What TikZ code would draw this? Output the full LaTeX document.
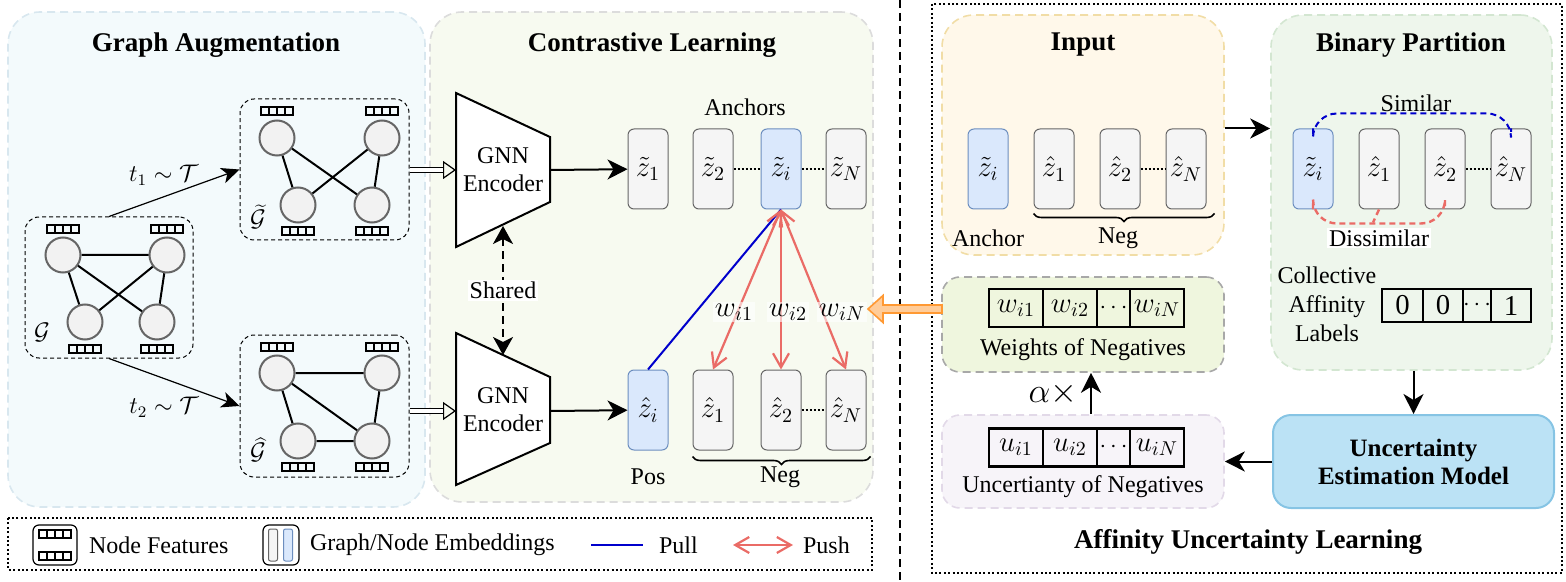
\documentclass[tikz,border=0pt]{standalone}
\usepackage{fontspec}
\setmainfont{Liberation Serif}
\usetikzlibrary{arrows.meta,positioning,decorations.pathreplacing}

\definecolor{gafill}{HTML}{F3FAFC}
\definecolor{galine}{HTML}{D8E7EF}
\definecolor{clfill}{HTML}{F7FAF0}
\definecolor{clline}{HTML}{DCDCDC}
\definecolor{inpfill}{HTML}{FFF8EA}
\definecolor{inpline}{HTML}{F1DDA6}
\definecolor{bpfill}{HTML}{EEF6EC}
\definecolor{bpline}{HTML}{D3E6D1}
\definecolor{wpfill}{HTML}{EFF6DE}
\definecolor{wpline}{HTML}{A8A8A8}
\definecolor{uncfill}{HTML}{F7F4F9}
\definecolor{uncline}{HTML}{E2D9E8}
\definecolor{uemfill}{HTML}{BBE2F5}
\definecolor{uemline}{HTML}{86C4E4}
\definecolor{embgray}{HTML}{F5F5F5}
\definecolor{embline}{HTML}{666666}
\definecolor{embblue}{HTML}{DAE8FC}
\definecolor{embblueline}{HTML}{6C8EBF}
\definecolor{nodefill}{HTML}{F2F2F2}
\definecolor{nodeline}{HTML}{666666}
\definecolor{pushred}{HTML}{EA6B66}
\definecolor{pullblue}{HTML}{0000CC}
\definecolor{orangefill}{HTML}{FFCC99}
\definecolor{orangeline}{HTML}{FF9933}

\tikzset{
  panel/.style={rounded corners=16pt, dash pattern=on 4pt off 2.5pt, line width=0.8pt, inner sep=0pt},
  emb/.style={draw=embline, fill=embgray, rounded corners=3pt, minimum width=20pt, minimum height=40pt,
    inner sep=0pt, line width=0.5pt, font=\fontsize{14.4}{16}\selectfont},
  embb/.style={emb, draw=embblueline, fill=embblue},
  gnode/.style={circle, draw=nodeline, fill=nodefill, line width=1pt, minimum size=17.5pt, inner sep=0pt},
  gbox/.style={draw, rounded corners=7pt, dash pattern=on 2pt off 1.5pt, line width=0.5pt, inner sep=0pt},
  gedge/.style={line width=1pt},
  ttl/.style={font=\fontsize{13.5}{16}\selectfont\bfseries},
  lbl/.style={font=\fontsize{12}{14}\selectfont},
  mlbl/.style={font=\fontsize{12}{14}\selectfont},
  wlbl/.style={font=\fontsize{14.4}{16}\selectfont, fill=white, fill opacity=0.6, text opacity=1, inner sep=1pt},
  cell/.style={draw, line width=1.2pt, outer sep=0pt, inner sep=0pt, minimum height=19pt,
    minimum width=27pt, font=\fontsize{14.4}{16}\selectfont},
  arr/.style={line width=1pt, -{Stealth[length=10pt,width=10pt,inset=3pt]}},
  thinarr/.style={line width=0.6pt, -{Stealth[length=9pt,width=8pt,inset=2.5pt]}},
  dbl/.style={line width=0.6pt, double, double distance=1.8pt},
  push/.style={pushred, line width=1.1pt, {Straight Barb[length=7pt,width=8pt]}-{Straight Barb[length=7pt,width=8pt]}},
  pull/.style={pullblue, line width=1pt},
  dots/.style={dash pattern=on 1pt off 1pt, line width=1pt},
  featbar/.pic={\draw[line width=0.6pt] (-16,-4) rectangle (16,4) (-8,-4) -- (-8,4) (0,-4) -- (0,4) (8,-4) -- (8,4);}
}

\begin{document}
\begin{tikzpicture}[x=0.5pt,y=-0.5pt]
\useasboundingbox (0,0) rectangle (1566,582);

% panels
\node[panel, draw=galine, fill=gafill, minimum width=208.5pt, minimum height=247.5pt] (ga) at (216.5,259.5) {};
\node[panel, draw=clline, fill=clfill, minimum width=221.5pt, minimum height=245pt] (cl) at (651.5,257) {};
\node[ttl] (gatitle) at (216,45) {Graph Augmentation};
\node[ttl] (cltitle) at (652,45) {Contrastive Learning};

% original graph
\node[gbox, minimum width=84pt, minimum height=70.5pt] (G) at (109,287.5) {};
\node[gnode] (g1) at (63,255) {};
\node[gnode] (g2) at (167,255) {};
\node[gnode] (g3) at (85,322) {};
\node[gnode] (g4) at (157,322) {};
\draw[gedge] (g1) -- (g2) (g1) -- (g4) (g2) -- (g3) (g1) -- (g3) (g2) -- (g4);
\foreach \x/\y in {63/229,167/229,85/349,157/349} \pic at (\x,\y) {featbar};
\node[mlbl] (Glab) at (42,332) {$\mathcal{G}$};

% view 1
\node[gbox, minimum width=84.5pt, minimum height=70.5pt] (Gt) at (324.5,169.5) {};
\node[gnode] (gt1) at (277,138) {};
\node[gnode] (gt2) at (382,138) {};
\node[gnode] (gt3) at (298,205) {};
\node[gnode] (gt4) at (372,205) {};
\draw[gedge] (gt1) -- (gt3) (gt1) -- (gt4) (gt2) -- (gt3) (gt2) -- (gt4);
\foreach \x/\y in {277/111,382/111,298/231,372/231} \pic at (\x,\y) {featbar};
\node[mlbl] (Gtlab) at (258,217) {$\widetilde{\mathcal{G}}$};

% view 2
\node[gbox, minimum width=84.5pt, minimum height=71pt] (Gh) at (324.5,406) {};
\node[gnode] (gh1) at (277,373) {};
\node[gnode] (gh2) at (382,373) {};
\node[gnode] (gh3) at (298,441) {};
\node[gnode] (gh4) at (372,441) {};
\draw[gedge] (gh1) -- (gh2) (gh1) -- (gh3) (gh1) -- (gh4) (gh2) -- (gh4) (gh3) -- (gh4);
\foreach \x/\y in {277/347,382/347,298/467,372/467} \pic at (\x,\y) {featbar};
\node[mlbl] (Ghlab) at (258,450) {$\widehat{\mathcal{G}}$};

\draw[thinarr] (G.north) -- (Gt.west) node[pos=0.42, above=2pt, mlbl] (t1) {$t_1\sim\mathcal{T}$};
\draw[thinarr] (G.south) -- (Gh.west);
\node[mlbl] (t2) at (164,407) {$t_2\sim\mathcal{T}$};

% encoders
\draw[line width=1pt, fill=white] (456,93) -- (550,137) -- (550,202) -- (456,247) -- cycle;
\draw[line width=1pt, fill=white] (456,333) -- (550,377) -- (550,443) -- (456,485) -- cycle;
\node[lbl, align=center] (enc1) at (503,170) {GNN\\Encoder};
\node[lbl, align=center] (enc2) at (503,410) {GNN\\Encoder};
\coordinate (enc1in) at (456,170);
\coordinate (enc2in) at (456,411);
\coordinate (enc1out) at (550,170);
\coordinate (enc2out) at (550,411);
\coordinate (sh1) at (503,226);
\coordinate (sh2) at (503,355);

\draw[dbl, shorten >=6pt] (Gt.east |- enc1in) -- (enc1in);
\draw[line width=0.6pt, -{Triangle[open,length=6.5pt,width=9pt]}] ([xshift=-6.5pt]enc1in) -- (enc1in);
\draw[dbl, shorten >=6pt] (Gh.east |- enc2in) -- (enc2in);
\draw[line width=0.6pt, -{Triangle[open,length=6.5pt,width=9pt]}] ([xshift=-6.5pt]enc2in) -- (enc2in);

\draw[line width=1pt, dash pattern=on 4pt off 2.5pt, {Stealth[length=9pt,width=10pt,inset=2.5pt]}-{Stealth[length=9pt,width=10pt,inset=2.5pt]}]
  (sh1) -- (sh2) node[midway, fill=white, inner sep=1pt, lbl] (shared) {Shared};

% embeddings
\node[emb] (zt1) at (648,169) {$\tilde{z}_1$};
\node[emb, right=12pt of zt1] (zt2) {$\tilde{z}_2$};
\node[embb, right=13.5pt of zt2] (zti) {$\tilde{z}_i$};
\node[emb, right=12pt of zti] (ztN) {$\tilde{z}_N$};
\draw[dots] (zt2) -- (zti) (zti) -- (ztN);
\node[lbl] (anchors) at (745,107) {Anchors};

\node[embb] (zhi) at (648,410) {$\hat{z}_i$};
\node[emb, right=12pt of zhi] (zh1) {$\hat{z}_1$};
\node[emb, right=13.5pt of zh1] (zh2) {$\hat{z}_2$};
\node[emb, right=12pt of zh2] (zhN) {$\hat{z}_N$};
\draw[dots] (zh2) -- (zhN);
\node[lbl] (pos) at (648,477) {Pos};
\draw[line width=0.8pt, decorate, decoration={brace, mirror, amplitude=4pt}]
  ([yshift=-3pt]zh1.south west) -- ([yshift=-3pt,xshift=2pt]zhN.south east);
\node[lbl] (neg) at (780,477) {Neg};

\draw[arr] (enc1out) -- (zt1);
\draw[arr] (enc2out) -- (zhi);

\draw[pull] (zhi.north) -- (zti.south);
\draw[push] (zti.south) -- (zh1.north);
\draw[push] (zti.south) -- (zh2.north);
\draw[push] (zti.south) -- (zhN.north);
\node[wlbl] (w1) at (734,312) {$w_{i1}$};
\node[wlbl] (w2) at (788,312) {$w_{i2}$};
\node[wlbl] (wN) at (842,312) {$w_{iN}$};

% divider and right frame
\draw[line width=0.7pt, dash pattern=on 4pt off 2.5pt] (900,0) -- (900,582);
\draw[line width=1pt, dash pattern=on 1pt off 1.2pt] (932,4) rectangle (1562,573);

\node[panel, draw=inpline, fill=inpfill, minimum width=141pt, minimum height=120pt] (inp) at (1083,135) {};
\node[panel, draw=bpline, fill=bpfill, minimum width=140.5pt, minimum height=177.5pt] (bp) at (1411.5,192.5) {};
\node[panel, rounded corners=9pt, draw=wpline, fill=wpfill, minimum width=141pt, minimum height=47.5pt] (wp) at (1083,324.5) {};
\node[panel, rounded corners=9pt, draw=uncline, fill=uncfill, minimum width=141pt, minimum height=46.5pt] (unc) at (1083,461.5) {};
\node[draw=uemline, fill=uemfill, line width=1pt, rounded corners=9pt, minimum width=140.5pt, minimum height=46.5pt,
  align=center, font=\fontsize{12.5}{14}\selectfont\bfseries] (uem) at (1413.5,461.5) {Uncertainty\\Estimation Model};
\node[ttl] (inptitle) at (1083,45) {Input};
\node[ttl] (bptitle) at (1411,45) {Binary Partition};
\node[ttl] (aultitle) at (1248,542) {Affinity Uncertainty Learning};

% input
\node[embb] (izi) at (988,169) {$\tilde{z}_i$};
\node[emb, right=12.5pt of izi] (iz1) {$\hat{z}_1$};
\node[emb, right=12.5pt of iz1] (iz2) {$\hat{z}_2$};
\node[emb, right=12.5pt of iz2] (izN) {$\hat{z}_N$};
\draw[dots] (iz2) -- (izN);
\draw[line width=0.8pt, decorate, decoration={brace, mirror, amplitude=4pt}]
  ([yshift=-2pt]iz1.south west) -- ([yshift=-2pt,xshift=4pt]izN.south east);
\node[lbl] (anchorlab) at (988,238) {Anchor};
\node[lbl] (ineg) at (1118,238) {Neg};

% binary partition
\node[embb] (bzi) at (1313,169) {$\tilde{z}_i$};
\node[emb, right=12.5pt of bzi] (bz1) {$\hat{z}_1$};
\node[emb, right=12.5pt of bz1] (bz2) {$\hat{z}_2$};
\node[emb, right=12.5pt of bz2] (bzN) {$\hat{z}_N$};
\draw[dots] (bz2) -- (bzN);
\draw[pullblue, line width=1pt, dash pattern=on 3pt off 2pt, rounded corners=12pt]
  (bzi.north) -- ++(0,-15) -| (bzN.north);
\draw[pushred, line width=1.2pt, dash pattern=on 3pt off 2pt, rounded corners=12pt]
  (bzi.south) -- ++(0,14) -| (bz2.south);
\draw[pushred, line width=1.2pt, dash pattern=on 3pt off 2pt] (bz1.south) -- ++(-6,13);
\node[lbl] (similar) at (1416,103) {Similar};
\node[lbl, fill=white, inner sep=1pt] (dissimilar) at (1379,238) {Dissimilar};
\node[lbl, align=center, font=\fontsize{12}{14.5}\selectfont] (cal) at (1327,304) {Collective\\Affinity\\Labels};

\node[cell, minimum width=20.5pt, minimum height=16.5pt] (l1) at (1402.5,305.5) {0};
\node[cell, minimum width=20pt, minimum height=16.5pt, right=0pt of l1] (l2) {0};
\node[cell, minimum width=14pt, minimum height=16.5pt, font=\fontsize{12}{14}\selectfont, right=0pt of l2] (l3) {$\cdots$};
\node[cell, minimum width=20pt, minimum height=16.5pt, right=0pt of l3] (l4) {1};

% weights and uncertainty
\node[cell] (wc1) at (1016,308) {$w_{i1}$};
\node[cell, right=0pt of wc1] (wc2) {$w_{i2}$};
\node[cell, minimum width=16.5pt, font=\fontsize{12}{14}\selectfont, right=0pt of wc2] (wc3) {$\cdots$};
\node[cell, right=0pt of wc3] (wc4) {$w_{iN}$};
\node[lbl] (wplab) at (1083,350) {Weights of Negatives};

\node[cell] (uc1) at (1016,447.5) {$u_{i1}$};
\node[cell, right=0pt of uc1] (uc2) {$u_{i2}$};
\node[cell, minimum width=16.5pt, font=\fontsize{12}{14}\selectfont, right=0pt of uc2] (uc3) {$\cdots$};
\node[cell, right=0pt of uc3] (uc4) {$u_{iN}$};
\node[lbl] (unclab) at (1083,487) {Uncertianty of Negatives};

% right arrows
\draw[arr] (inp.east |- bzi.north) -- (bp.west |- bzi.north);
\draw[arr] (bp.south -| uem.north) -- (uem.north);
\draw[arr] (uem.west) -- (unc.east);
\draw[arr] ([xshift=4pt]unc.north) -- ([xshift=4pt]wp.south) node[midway, left=3pt, font=\fontsize{17.28}{19}\selectfont] (alpha) {$\alpha\times$};

% weights fed back
\coordinate (wtail) at (942,309);
\draw[draw=orangeline, fill=orangefill, line width=0.8pt]
  (wtail) ++(0,-4) -- ++(-59,0) -- ++(0,-9.5) -- ++(-15,13.5) -- ++(15,13.5) -- ++(0,-9.5) -- ++(59,0) -- cycle;

% legend
\draw[line width=1pt, dash pattern=on 1pt off 1.2pt] (8,518) rectangle (872,570);
\node[draw, rounded corners=3pt, line width=0.6pt, minimum width=22pt, minimum height=20pt] (legfeat) at (55,545) {};
\pic at (55,534) {featbar};
\pic at (55,556) {featbar};
\node[lbl, anchor=west] (legfeatlab) at (82,545) {Node Features};
\node[draw, rounded corners=3pt, line width=0.6pt, minimum width=18pt, minimum height=20pt] (legemb) at (281,545) {};
\node[draw=embline, fill=embgray, rounded corners=1pt, line width=0.5pt, minimum width=4.5pt, minimum height=16pt, inner sep=0pt] (legemb1) at (273,545) {};
\node[draw=embblueline, fill=embblue, rounded corners=1pt, line width=0.5pt, minimum width=4.5pt, minimum height=16pt, inner sep=0pt] (legemb2) at (288,545) {};
\node[lbl, anchor=west] (legemblab) at (303,545) {Graph/Node Embeddings};
\coordinate (pull1) at (591,545);
\coordinate (pull2) at (643,545);
\draw[pullblue, line width=1.4pt] (pull1) -- (pull2);
\node[lbl, anchor=west] (pulllab) at (652,545) {Pull};
\coordinate (push1) at (733,545);
\coordinate (push2) at (793,545);
\draw[push] (push1) -- (push2);
\node[lbl, anchor=west] (pushlab) at (796,545) {Push};
\end{tikzpicture}
\end{document}
